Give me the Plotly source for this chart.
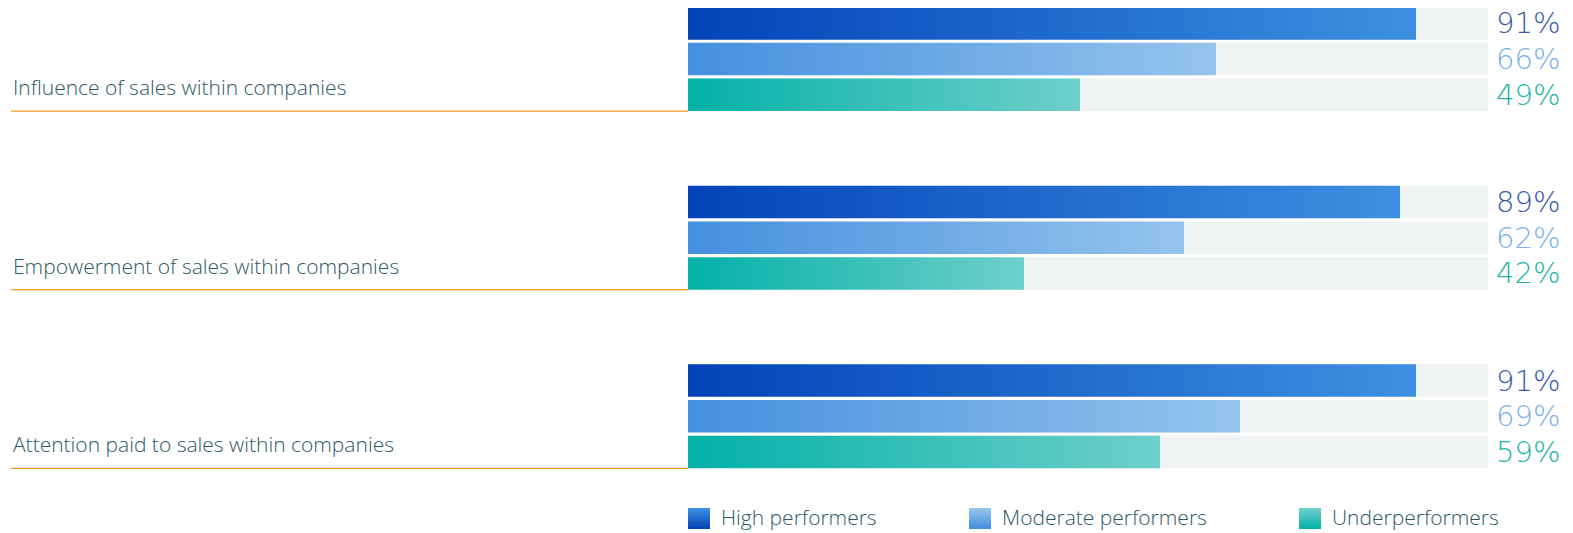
import plotly.graph_objects as go

# Dados
categorias = [
    "Influence of sales within companies",
    "Empowerment of sales within companies",
    "Attention paid to sales within companies",
]
series = ["High performers", "Moderate performers", "Underperformers"]
valores = [
    [91, 66, 49],
    [89, 62, 42],
    [91, 69, 59],
]

# Cores (gradiente esquerda -> direita) e cor do rótulo
gradientes = [
    ["#0343b8", "#3d90e1"],
    ["#4590df", "#95c4ed"],
    ["#03b1a8", "#6fcfcb"],
]
cores_texto = ["#3b5aa9", "#7bb0e8", "#22b6a6"]
cor_trilho = "#eff3f4"
cor_label = "#2e5867"
cor_linha = "#f39a1e"

# a página tem margem de 8px no body: a figura ocupa o resto da janela
OFF = 8
W, H = 1573 - OFF, 533 - OFF


def px_x(X):
    return (X - OFF) / W


def px_y(Y):
    return (533 - Y) / H


passo_grupo = 5
meia_altura = 0.455

fig = go.Figure()

for g, cat in enumerate(categorias):
    for s, nome in enumerate(series):
        yc = g * passo_grupo + s
        v = valores[g][s]
        # trilho cinza (100%)
        fig.add_trace(go.Scatter(
            x=[0, 100, 100, 0, 0],
            y=[yc - meia_altura, yc - meia_altura, yc + meia_altura, yc + meia_altura, yc - meia_altura],
            mode="lines", fill="toself", fillcolor=cor_trilho,
            line=dict(width=0), hoverinfo="skip", showlegend=False,
        ))
        # barra com gradiente
        fig.add_trace(go.Scatter(
            x=[0, v, v, 0, 0],
            y=[yc - meia_altura, yc - meia_altura, yc + meia_altura, yc + meia_altura, yc - meia_altura],
            mode="lines", fill="toself",
            fillgradient=dict(type="horizontal",
                              colorscale=[[0, gradientes[s][0]], [1, gradientes[s][1]]]),
            line=dict(width=0), name=nome,
            hovertemplate=f"{cat}<br>{nome}: {v}%<extra></extra>",
            showlegend=False,
        ))
        fig.add_annotation(
            x=100, y=yc, xref="x", yref="y", text=f"{v}%",
            xanchor="left", yanchor="middle", xshift=6, showarrow=False,
            font=dict(family="DejaVu Sans ExtraLight, DejaVu Sans", size=29,
                      color=cores_texto[s], weight=200),
        )
    y_base = g * passo_grupo + 2 + meia_altura
    # rótulo da categoria
    fig.add_annotation(
        x=px_x(11), y=y_base, xref="paper", yref="y", text=cat,
        xanchor="left", yanchor="bottom", yshift=8, showarrow=False,
        font=dict(family="Open Sans", size=21, color=cor_label, weight=300),
    )
    # linha laranja
    fig.add_shape(type="line", xref="paper", yref="y",
                  x0=px_x(11), x1=px_x(688), y0=y_base, y1=y_base,
                  line=dict(color=cor_linha, width=1.2))

# Legenda manual (quadrado com gradiente vertical + texto)
pos_legenda = [688, 969, 1299]
n_faixas = 11
for s, nome in enumerate(series):
    c0 = gradientes[s][0].lstrip("#")
    c1 = gradientes[s][1].lstrip("#")
    r0, g0, b0 = [int(c0[i:i + 2], 16) for i in (0, 2, 4)]
    r1, g1, b1 = [int(c1[i:i + 2], 16) for i in (0, 2, 4)]
    for k in range(n_faixas):
        t = k / (n_faixas - 1)
        cor = f"rgb({round(r0 + (r1 - r0) * t)},{round(g0 + (g1 - g0) * t)},{round(b0 + (b1 - b0) * t)})"
        topo_faixa = 529 - (k + 1) * 21 / n_faixas
        if k < n_faixas - 1:
            topo_faixa -= 1  # sobreposição para não deixar frestas
        fig.add_shape(type="rect", xref="paper", yref="paper",
                      x0=px_x(pos_legenda[s]), x1=px_x(pos_legenda[s] + 22),
                      y0=px_y(529 - k * 21 / n_faixas), y1=px_y(topo_faixa),
                      fillcolor=cor, line=dict(width=0), layer="above")
    fig.add_annotation(
        x=px_x(pos_legenda[s] + 31), y=px_y(517), xref="paper", yref="paper",
        text=nome, xanchor="left", yanchor="middle", showarrow=False,
        font=dict(family="Open Sans", size=21, color=cor_label, weight=300),
    )

px_unidade = 35.72
topo = 23.4 - OFF
fig.update_layout(
    width=W, height=H,
    margin=dict(l=0, r=0, t=0, b=0),
    paper_bgcolor="white", plot_bgcolor="white",
    showlegend=False,
    xaxis=dict(domain=[px_x(688), px_x(1488)], range=[0, 100],
               visible=False, fixedrange=True),
    yaxis=dict(range=[(H - topo) / px_unidade, -topo / px_unidade],
               visible=False, fixedrange=True),
)

fig.write_html("out.html")
